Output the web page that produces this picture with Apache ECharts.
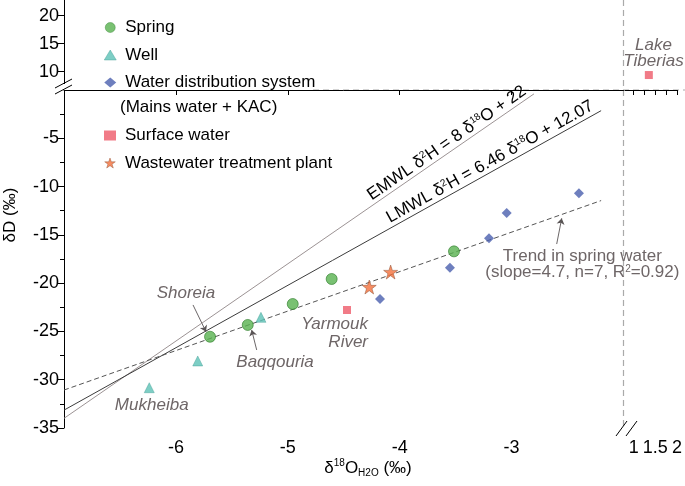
<!DOCTYPE html>
<html><head><meta charset="utf-8">
<script src="https://cdn.jsdelivr.net/npm/echarts@6/dist/echarts.min.js"></script>
<style>html,body{margin:0;padding:0;background:#fff}#c{width:685px;height:486px}</style>
</head><body><div id="c"></div>
<script>
// ---- data ----
const springPts = [[-5.695,-25.55],[-5.358,-24.33],[-4.956,-22.16],[-4.608,-19.57],[-3.515,-16.71]];
const wellPts = [[-5.240,-23.54],[-5.805,-28.06],[-6.238,-30.83]];
const wdsPts = [[-2.398,-10.70],[-3.044,-12.74],[-3.202,-15.36],[-3.551,-18.40],[-4.176,-21.64]];
const wwtpPts = [[-4.081,-18.85],[-4.272,-20.40]];
const surfacePts = [[-4.471,-22.78]];
const surfaceHighPts = [[1.35,9.4]];
const emwlLine = [[-7,-34.0],[-2.8,-0.4]];
const lmwlLine = [[-7,-33.15],[-2.2,-2.14]];
const trendLine = [[-7,-31.07],[-2.2,-11.45]];
const xTicksMain = [-6,-5,-4,-3];
const xTicksRight = [1,1.25,1.5,1.75,2];
const xLabelsRight = [1,1.5,2];
const yTicksMain = [-35,-30,-25,-20,-15,-10,-5];
const yMinorMain = [-32.5,-27.5,-22.5,-17.5,-12.5,-7.5,-2.5];
const yTicksTop = [10,15,20];
// annotations: [x, y, text] in data coordinates (main grid)
const annotations = [
  [-5.910,-21.05,'Shoreia'],
  [-5.114,-28.20,'Baqqouria'],
  [-6.216,-32.62,'Mukheiba'],
];
const arrows = [
  [[-5.847,-22.26],[-5.731,-25.03]],
  [[-5.278,-26.92],[-5.323,-24.85]],
  [[-2.597,-15.95],[-2.552,-13.29]]
];
const yarmoukLabel = [-4.283,-25.16,'Yarmouk\nRiver'];
const trendLabel = [-2.368,-18.09,'Trend in spring water\n(slope=4.7, n=7, R{s|2}=0.92)'];
const lakeLabel = [1.457,13.34,'Lake\nTiberias'];
const emwlText = [-2.84,-0.72,'EMWL δ{s|2}H = 8 δ{s|18}O + 22'];
const lmwlText = [-2.24,-2.35,'LMWL δ{s|2}H = 6.46 δ{s|18}O + 12.07'];

const STAR = 'path://M50,2 L61.8,36.2 L97.6,36.2 L68.6,57.4 L79.6,91.6 L50,70.4 L20.4,91.6 L31.4,57.4 L2.4,36.2 L38.2,36.2 Z';
const FONT = 'Liberation Sans';
const chart = echarts.init(document.getElementById('c'));
const axisBlack = {lineStyle:{color:'#000',width:1}};
const GRAY = '#6e6667';

const option = {
  animation:false,
  backgroundColor:'#fff',
  textStyle:{fontFamily:FONT},
  grid:[
    {left:64, top:90, width:559.5, height:338},
    {left:64, top:0, width:559.5, height:84},
    {left:625, top:90, width:52, height:338},
    {left:625, top:0, width:52, height:84}
  ],
  xAxis:[
    {gridIndex:0,type:'value',min:-7,max:-2,interval:1,axisLine:axisBlack,
     axisTick:{customValues:xTicksMain,length:5,lineStyle:{color:'#000'}},
     axisLabel:{customValues:xTicksMain,fontSize:18,color:'#000',margin:11,fontFamily:FONT},splitLine:{show:false}},
    {gridIndex:1,type:'value',min:-7,max:-2,show:false},
    {gridIndex:2,type:'value',min:0.8,max:2,axisLine:axisBlack,
     axisTick:{customValues:xTicksRight,length:5,lineStyle:{color:'#000'}},
     axisLabel:{customValues:xLabelsRight,fontSize:18,color:'#000',margin:11,fontFamily:FONT},splitLine:{show:false}},
    {gridIndex:3,type:'value',min:0.8,max:2,show:false}
  ],
  yAxis:[
    {gridIndex:0,type:'value',min:-35,max:0,position:'left',axisLine:{show:true,lineStyle:{color:'#000'}},
     axisTick:{customValues:yTicksMain,length:7,lineStyle:{color:'#000'}},
     axisLabel:{customValues:yTicksMain,fontSize:18,color:'#000',margin:5,fontFamily:FONT},splitLine:{show:false}},
    {gridIndex:1,type:'value',min:7.8,max:22.8,position:'left',axisLine:{show:true,lineStyle:{color:'#000'}},
     axisTick:{customValues:yTicksTop,length:7,lineStyle:{color:'#000'}},
     axisLabel:{customValues:yTicksTop,fontSize:18,color:'#000',margin:5,fontFamily:FONT},splitLine:{show:false}},
    {gridIndex:2,type:'value',min:-35,max:0,show:false},
    {gridIndex:3,type:'value',min:7.8,max:22.8,show:false},
    {gridIndex:0,type:'value',min:-35,max:0,position:'left',axisLine:{show:false},
     axisTick:{show:true,customValues:yMinorMain,length:4,lineStyle:{color:'#000'}},
     axisLabel:{show:false},splitLine:{show:false}}
  ],
  legend:[
    {orient:'vertical',left:99,top:14,itemWidth:12,itemHeight:10,itemGap:10.5,
     itemStyle:{borderWidth:0.5},
     data:['Spring','Well','Water distribution system'],
     textStyle:{fontSize:17,color:'#000',fontFamily:FONT,padding:[0,0,0,4]}},
    {orient:'vertical',left:99,top:122,itemWidth:12,itemHeight:10,itemGap:10.5,
     itemStyle:{borderWidth:0.5},
     data:['Surface water','Wastewater treatment plant'],
     textStyle:{fontSize:17,color:'#000',fontFamily:FONT,padding:[0,0,0,4]}}
  ],
  series:[
    {type:'line',name:'EMWL',data:emwlLine,xAxisIndex:0,yAxisIndex:0,symbol:'none',silent:true,
     lineStyle:{color:'#9c9394',width:1},z:1},
    {type:'line',name:'LMWL',data:lmwlLine,xAxisIndex:0,yAxisIndex:0,symbol:'none',silent:true,
     lineStyle:{color:'#3c3c3c',width:1},z:1},
    {type:'line',name:'Trend',data:trendLine,xAxisIndex:0,yAxisIndex:0,symbol:'none',silent:true,
     lineStyle:{color:'#555',width:1,type:[5,3]},z:1},
    {type:'lines',coordinateSystem:'cartesian2d',xAxisIndex:0,yAxisIndex:0,silent:true,
     symbol:['none','arrow'],symbolSize:6,
     lineStyle:{color:'#5a5556',width:0.9,opacity:1},
     data:arrows.map(a=>({coords:a})),z:1},
    {type:'scatter',name:'Spring',data:springPts,xAxisIndex:0,yAxisIndex:0,symbol:'circle',symbolSize:11,
     itemStyle:{color:'#57b24f',borderColor:'#2e7d2a',borderWidth:0.8},z:3},
    {type:'scatter',name:'Well',data:wellPts,xAxisIndex:0,yAxisIndex:0,symbol:'triangle',symbolSize:10,
     itemStyle:{color:'#5cc2b6',borderColor:'#3b9a90',borderWidth:0.5},z:3},
    {type:'scatter',name:'Water distribution system',data:wdsPts,xAxisIndex:0,yAxisIndex:0,symbol:'diamond',symbolSize:10,
     itemStyle:{color:'#4a5fae'},z:3},
    {type:'scatter',name:'Surface water',data:surfacePts,xAxisIndex:0,yAxisIndex:0,symbol:'rect',symbolSize:8,
     itemStyle:{color:'#ee5a69'},z:3},
    {type:'scatter',name:'Surface water',data:surfaceHighPts,xAxisIndex:3,yAxisIndex:3,symbol:'rect',symbolSize:8,
     itemStyle:{color:'#ee5a69'},z:3},
    {type:'scatter',name:'Wastewater treatment plant',data:wwtpPts,xAxisIndex:0,yAxisIndex:0,symbol:STAR,symbolSize:14,
     itemStyle:{color:'#f4703c',borderColor:'#8a4b2e',borderWidth:0.6},z:3}
  ]
};
chart.setOption(option);

function px(p, g){ return chart.convertToPixel({gridIndex:g||0}, p); }
const graphics = [];
// dashed separators
const hy = px([-7,0])[1];
const vx = px([-2,0])[0];
graphics.push({type:'line',shape:{x1:313,y1:hy,x2:685,y2:hy},style:{stroke:'#aaa',lineWidth:1.2,lineDash:[6,4]},z:0});
graphics.push({type:'line',shape:{x1:vx,y1:0,x2:vx,y2:px([-7,-35])[1]},style:{stroke:'#aaa',lineWidth:1.2,lineDash:[6,4]},z:0});
// axis break marks
const by = px([-7,-35])[1];
[[0],[10]].forEach(o=>{
  graphics.push({type:'line',shape:{x1:616+o[0],y1:by+8,x2:627+o[0],y2:by-7},style:{stroke:'#000',lineWidth:1},z:5});
});
const ax = px([-7,0])[0];
[[0],[6]].forEach(o=>{
  graphics.push({type:'line',shape:{x1:ax-9,y1:hy-2+o[0],x2:ax+8,y2:hy-11+o[0]},style:{stroke:'#000',lineWidth:1},z:5});
});
graphics.push({type:'rect',shape:{x:ax-1,y:84,width:2,height:6},style:{fill:'#fff'},z:4});
// annotations
annotations.forEach(a=>{
  const p = px([a[0],a[1]]);
  graphics.push({type:'text',x:p[0],y:p[1],style:{text:a[2],fill:GRAY,font:'italic 17px "'+FONT+'"',align:'center',verticalAlign:'middle'},z:6});
});
{
  const p = px([yarmoukLabel[0],yarmoukLabel[1]]);
  graphics.push({type:'text',x:p[0],y:p[1],style:{text:yarmoukLabel[2],fill:GRAY,font:'italic 17px "'+FONT+'"',align:'right',verticalAlign:'middle',lineHeight:18},z:6});
}
{
  const p = px([trendLabel[0],trendLabel[1]]);
  graphics.push({type:'text',x:p[0],y:p[1],style:{text:trendLabel[2],fill:GRAY,fontFamily:FONT,fontSize:17,align:'center',verticalAlign:'middle',lineHeight:16,
    rich:{s:{fontSize:10,verticalAlign:'top',fill:GRAY,lineHeight:16}}},z:6});
}
{
  const p = px([lakeLabel[0],lakeLabel[1]],3);
  graphics.push({type:'text',x:p[0],y:p[1],style:{text:lakeLabel[2],fill:GRAY,font:'italic 17px "'+FONT+'"',align:'center',verticalAlign:'middle',lineHeight:16},z:6});
}
// equations along lines
[[emwlText,emwlLine],[lmwlText,lmwlLine]].forEach(([t,l])=>{
  const p0 = px(l[0]), p1 = px(l[1]);
  const ang = Math.atan2(-(p1[1]-p0[1]), p1[0]-p0[0]);
  const p = px([t[0],t[1]]);
  graphics.push({type:'text',x:p[0],y:p[1],rotation:ang,style:{text:t[2],fill:'#000',fontFamily:FONT,fontSize:17,align:'right',verticalAlign:'bottom',lineHeight:18,
    rich:{s:{fontSize:10,verticalAlign:'top',lineHeight:18}}},z:6});
});
// legend extra line
graphics.push({type:'text',x:120,y:107,style:{text:'(Mains water + KAC)',fill:'#000',fontFamily:FONT,fontSize:17,verticalAlign:'middle'},z:6});
// axis titles
graphics.push({type:'text',x:368,y:468,style:{text:'δ{s|18}O{b|H2O} (‰)',fill:'#000',fontFamily:FONT,fontSize:17,align:'center',verticalAlign:'middle',lineHeight:20,
  rich:{s:{fontSize:10,verticalAlign:'top',lineHeight:20},b:{fontSize:10,verticalAlign:'bottom',lineHeight:20}}},z:6});
graphics.push({type:'text',x:10,y:215,rotation:Math.PI/2,style:{text:'δD (‰)',fill:'#000',fontFamily:FONT,fontSize:17,align:'center',verticalAlign:'middle'},z:6});
chart.setOption({graphic:graphics});
</script>
</body></html>
